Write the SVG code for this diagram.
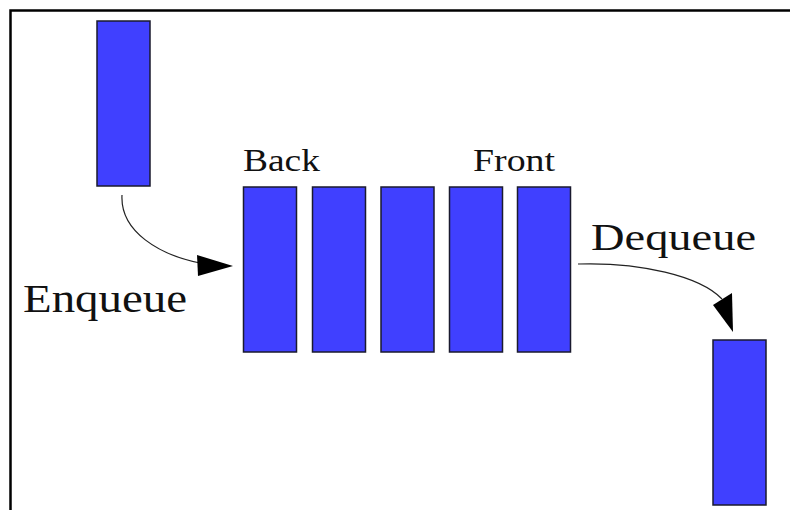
<svg xmlns="http://www.w3.org/2000/svg" width="790" height="510" viewBox="0 0 790 510">
  <style>
    .item { fill: #4040ff; stroke: #1a1a2e; stroke-width: 1.5; }
    .label { font-family: "Liberation Serif", "Times New Roman", serif; fill: #111; }
    .conn { fill: none; stroke: #222; stroke-width: 1.2; }
    .head { fill: #000; stroke: none; }
    .frame { stroke: #000; stroke-width: 2.5; fill: none; }
  </style>
  <rect width="790" height="510" fill="#fff"/>
  <!-- frame: top and left edges -->
  <path class="frame" d="M10.5,510 V10.5 H790"/>

  <g id="incoming">
    <rect class="item" x="97" y="21" width="53" height="165"/>
  </g>

  <g id="queue">
    <rect class="item" x="243.5" y="187" width="53" height="165"/>
    <rect class="item" x="312.5" y="187" width="53" height="165"/>
    <rect class="item" x="381" y="187" width="53" height="165"/>
    <rect class="item" x="449.5" y="187" width="53" height="165"/>
    <rect class="item" x="517.5" y="187" width="53" height="165"/>
  </g>

  <g id="outgoing">
    <rect class="item" x="713" y="340" width="53" height="165"/>
  </g>

  <g id="labels">
    <text class="label" x="243" y="171" font-size="31" textLength="77" lengthAdjust="spacingAndGlyphs">Back</text>
    <text class="label" x="473" y="171" font-size="31" textLength="82" lengthAdjust="spacingAndGlyphs">Front</text>
    <text class="label" x="23" y="312" font-size="40" textLength="164" lengthAdjust="spacingAndGlyphs">Enqueue</text>
    <text class="label" x="591" y="250" font-size="38" textLength="165" lengthAdjust="spacingAndGlyphs">Dequeue</text>
  </g>

  <g id="connectors">
    <path class="conn" d="M122,195 C120,232 160,255 200,263"/>
    <polygon class="head" points="197,255 233,266 198,276"/>
    <path class="conn" d="M578,264 C640,262 700,276 722,299"/>
    <polygon class="head" points="713,305 732,293 733,332"/>
  </g>
</svg>
